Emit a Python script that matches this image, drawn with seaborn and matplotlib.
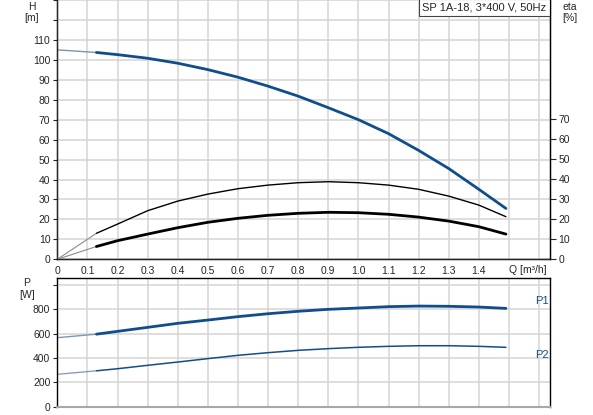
import numpy as np
import matplotlib
matplotlib.use('Agg')
import matplotlib.pyplot as plt
import seaborn as sns

# flow points [m3/h]
q = [0, 0.13, 0.2, 0.3, 0.4, 0.5, 0.6, 0.7, 0.8, 0.9, 1.0, 1.1, 1.2, 1.3, 1.4, 1.49]

# head H [m]
head = [105, 103.7, 102.6, 100.8, 98.3, 95.1, 91.3, 86.8, 81.8, 76, 70, 63, 54.6, 45.5, 35.1, 25.5]
# pump efficiency eta [%]
eta_pump = [0, 13, 17.6, 24.3, 29.1, 32.6, 35.3, 37.1, 38.3, 38.8, 38.3, 37.1, 35, 31.6, 27.1, 21.3]
# total efficiency eta [%]
eta_total = [0, 6.4, 9.3, 12.6, 15.8, 18.5, 20.5, 22, 23, 23.5, 23.3, 22.5, 21.1, 19.1, 16.3, 12.6]
# power P1 / P2 [W]
p1 = [567, 596, 619, 652, 685, 712, 740, 764, 784, 800, 811, 822, 827, 825, 819, 808]
p2 = [266, 295, 312, 340, 367, 395, 422, 444, 463, 477, 488, 496, 501, 501, 496, 488]

title = 'SP 1A-18, 3*400 V, 50Hz'

sns.set_style('white')
plt.rcParams['font.family'] = ['Liberation Sans', 'DejaVu Sans']
plt.rcParams['font.size'] = 7.5

blue = '#104e8b'
grid_c = '#d4d4d4'

fig = plt.figure(figsize=(5.93, 4.15), dpi=100)
W, Hh = 593, 415
left = 57.3 / W
width = (550 - 57.3) / W
ax = fig.add_axes([left, 1 - 259.3 / Hh, width, 259.3 / Hh])
axp = fig.add_axes([left, 1 - 406.7 / Hh, width, (406.7 - 277.7) / Hh])

xmax = (550 - 57.3) / 301.1

def split_plot(axis, y, color, lw_main, c_start, lw_start):
    # faint start segment (0 .. 0.13), then main curve
    sns.lineplot(x=q[:2], y=y[:2], ax=axis, color=c_start, linewidth=lw_start, sort=False)
    sns.lineplot(x=q[1:], y=y[1:], ax=axis, color=color, linewidth=lw_main, sort=False)

# --- top chart: H and eta ---
ax.set_xlim(0, xmax)
ax.set_ylim(0, 129.65)
ax.set_xticks(np.arange(0, 1.61, 0.1))
ax.set_xticklabels(['0'] + [f'{v:.1f}' for v in np.arange(0.1, 1.45, 0.1)] + ['', ''])
ax.set_yticks(np.arange(0, 131, 10))
ax.set_yticklabels([str(v) if v <= 110 else '' for v in range(0, 131, 10)])
ax.grid(True, color=grid_c, linewidth=1.1)
ax.set_axisbelow(True)
ax.tick_params(axis='x', length=0, pad=5)
ax.tick_params(axis='y', length=3, pad=2, left=True)
for s in ['left', 'bottom', 'right']:
    ax.spines[s].set_color('black')
    ax.spines[s].set_linewidth(1)
ax.spines['top'].set_visible(False)

split_plot(ax, head, blue, 2.0, '#7d95b5', 1.0)

ax2 = ax.twinx()
ax2.set_ylim(0, 129.65)
ax2.set_yticks(np.arange(0, 71, 10))
ax2.tick_params(axis='y', length=4, pad=2, right=True)
ax2.spines['top'].set_visible(False)
ax2.spines['right'].set_color('black')
split_plot(ax2, eta_pump, 'black', 1.0, '#8c8c8c', 0.8)
split_plot(ax2, eta_total, 'black', 2.0, '#8c8c8c', 0.8)
ax2.set_xlabel('')
ax2.set_ylabel('')
ax.set_xlabel('')
ax.set_ylabel('')

ax.text(1.5, -5.5, 'Q [m³/h]', ha='left', va='center', fontsize=7.5)
ax.annotate(title, xy=(1, 1), xycoords='axes fraction', xytext=(-2.5, -2),
            textcoords='offset points', ha='right', va='top', fontsize=8,
            bbox=dict(boxstyle='square,pad=0.3', fc='white', ec='#444444', lw=0.8))

fig.text(32 / W, 1 - 7 / Hh, 'H', ha='center', va='center')
fig.text(32 / W, 1 - 18 / Hh, '[m]', ha='center', va='center')
fig.text(570 / W, 1 - 7 / Hh, 'eta', ha='center', va='center')
fig.text(570 / W, 1 - 18 / Hh, '[%]', ha='center', va='center')

# --- bottom chart: P1, P2 ---
axp.set_xlim(0, xmax)
axp.set_ylim(0, 1060)
axp.set_xticks(np.arange(0, 1.61, 0.1))
axp.set_xticklabels([])
axp.set_yticks(np.arange(0, 1001, 200))
axp.set_yticklabels([str(v) if v <= 800 else '' for v in range(0, 1001, 200)])
axp.grid(True, color=grid_c, linewidth=1.1)
axp.set_axisbelow(True)
axp.tick_params(axis='x', length=0)
axp.tick_params(axis='y', length=3, pad=2, left=True)
for s in ['left', 'top', 'right']:
    axp.spines[s].set_color('black')
    axp.spines[s].set_linewidth(1)
axp.spines['bottom'].set_color('#a8a8a8')
axp.spines['bottom'].set_linewidth(1.5)

split_plot(axp, p1, blue, 2.0, '#7d95b5', 1.0)
split_plot(axp, p2, blue, 1.1, '#7d95b5', 0.9)
axp.set_xlabel('')
axp.set_ylabel('')
axp.text(0.997, 865, 'P1', transform=axp.get_yaxis_transform(), ha='right', va='center',
         color=blue, fontsize=8)
axp.text(0.997, 425, 'P2', transform=axp.get_yaxis_transform(), ha='right', va='center',
         color=blue, fontsize=8)

fig.text(27 / W, 1 - 283 / Hh, 'P', ha='center', va='center')
fig.text(27 / W, 1 - 295 / Hh, '[W]', ha='center', va='center')

fig.savefig('out.png', dpi=100)
